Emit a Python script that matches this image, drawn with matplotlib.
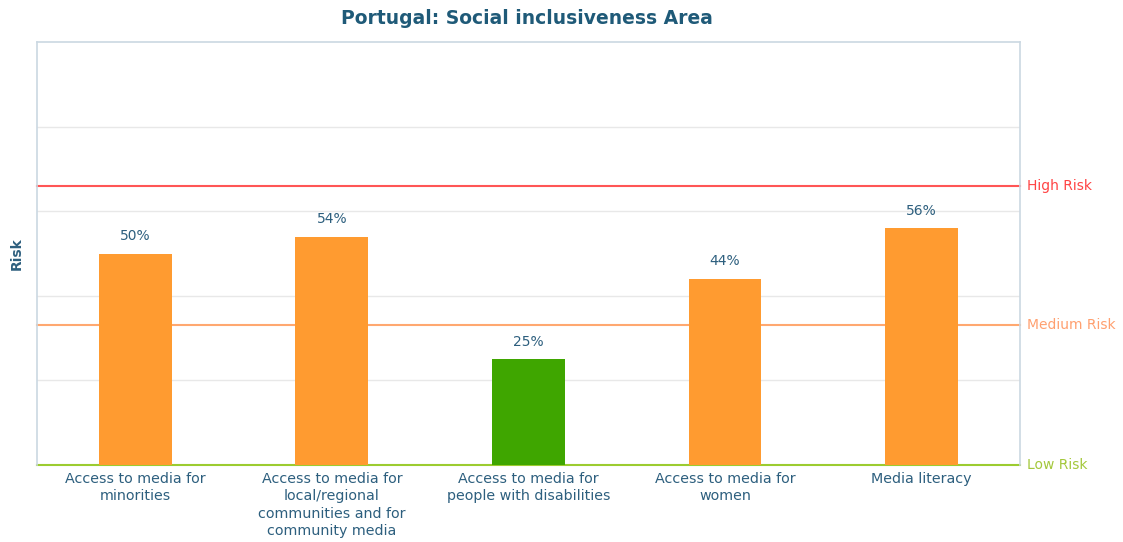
import matplotlib
matplotlib.use("Agg")
import matplotlib.pyplot as plt
import numpy as np

categories = ["Access to media for\nminorities",
              "Access to media for\nlocal/regional\ncommunities and for\ncommunity media",
              "Access to media for\npeople with disabilities",
              "Access to media for\nwomen",
              "Media literacy"]
values = [50, 54, 25, 44, 56]
bar_colors = ["#ff9b30", "#ff9b30", "#3fa600", "#ff9b30", "#ff9b30"]
thresholds = [66, 33, 0]
threshold_labels = ["High Risk", "Medium Risk", "Low Risk"]
threshold_colors = ["#ff5555", "#ffa870", "#9ccc30"]
threshold_text_colors = ["#ff4444", "#ffa070", "#a4c83c"]

text_color = "#2d5f7e"
fig = plt.figure(figsize=(11.23, 5.42), dpi=100)
ax = fig.add_axes([0.033, 0.142, 0.875, 0.7805])
x = np.arange(len(categories))
ax.bar(x, values, width=0.37, color=bar_colors, zorder=3)
for xi, v in zip(x, values):
    ax.text(xi, v + 2.5, f"{v}%", ha="center", va="bottom", fontsize=10, color=text_color, zorder=4)

ax.set_xlim(-0.5, 4.5)
ax.set_ylim(0, 100)
ax.set_yticks([20, 40, 60, 80])
ax.set_yticklabels([])
ax.tick_params(axis="y", length=0)
ax.tick_params(axis="x", length=0, pad=5, labelsize=10.3, labelcolor=text_color)
ax.set_xticks(x)
ax.set_xticklabels(categories, linespacing=1.3)
ax.grid(axis="y", color="#e8e8e8", linewidth=1, zorder=0)
for s in ["top", "left", "right"]:
    ax.spines[s].set_color("#cbd8e2")
    ax.spines[s].set_linewidth(1.2)
ax.spines["bottom"].set_visible(False)

for t, lab, lc, tc in zip(thresholds, threshold_labels, threshold_colors, threshold_text_colors):
    ax.axhline(t, color=lc, linewidth=1.5, zorder=2, clip_on=False)
    ax.text(1.007, t, lab, transform=ax.get_yaxis_transform(), va="center", ha="left",
            fontsize=10, color=tc)

ax.set_ylabel("Risk", fontsize=10, fontweight="bold", color=text_color, labelpad=6)
fig.text(0.4693, 0.966, "Portugal: Social inclusiveness Area", ha="center", va="center",
         fontsize=13.5, fontweight="bold", color="#1f5a78")
fig.savefig("out.png", dpi=100)
